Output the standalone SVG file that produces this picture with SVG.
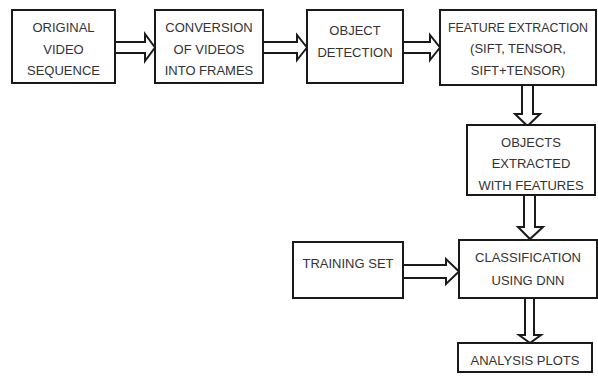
<svg xmlns="http://www.w3.org/2000/svg" width="598" height="380" viewBox="0 0 598 380">
<style>
.box{fill:#fff;stroke:#1a1a1a;stroke-width:2}
.arr{fill:#fff;stroke:#1a1a1a;stroke-width:2;stroke-linejoin:miter}
text{font-family:"Liberation Sans",Arial,sans-serif;font-size:13px;fill:#333;text-anchor:middle}
</style>
<rect width="598" height="380" fill="#fff"/>
<g id="connectors">
<polygon class="arr" points="115,42 145,42 145,34 155,47.5 145,61 145,53 115,53"/>
<polygon class="arr" points="263,42 297,42 297,35 307,47.5 297,60 297,53 263,53"/>
<polygon class="arr" points="403,42 430,42 430,35 440,47.5 430,60 430,53 403,53"/>
<polygon class="arr" points="522,85 522,114 515,114 527.5,126 540,114 533,114 533,85"/>
<polygon class="arr" points="524,195 524,227 518,227 530,239 543,227 535,227 535,195"/>
<polygon class="arr" points="403,265 446,265 446,259 459,271.5 446,284 446,278 403,278"/>
<polygon class="arr" points="525,298 525,335 519,335 530,343 541,335 534,335 534,298"/>
</g>
<g id="original">
<rect class="box" x="12" y="10" width="103" height="73"/>
<text x="63.5" y="32">ORIGINAL</text>
<text x="63.5" y="53.5">VIDEO</text>
<text x="63.5" y="75">SEQUENCE</text>
</g>
<g id="conversion">
<rect class="box" x="155" y="10" width="108" height="73"/>
<text x="209" y="32">CONVERSION</text>
<text x="209" y="53.5">OF VIDEOS</text>
<text x="209" y="75">INTO FRAMES</text>
</g>
<g id="detection">
<rect class="box" x="307" y="10" width="96" height="73"/>
<text x="355" y="35">OBJECT</text>
<text x="355" y="57">DETECTION</text>
</g>
<g id="feature">
<rect class="box" x="440" y="10" width="156" height="75"/>
<text x="518" y="32" textLength="140" lengthAdjust="spacingAndGlyphs">FEATURE EXTRACTION</text>
<text x="518" y="53">(SIFT, TENSOR,</text>
<text x="518" y="75">SIFT+TENSOR)</text>
</g>
<g id="objects">
<rect class="box" x="467" y="125" width="128" height="70"/>
<text x="531" y="147">OBJECTS</text>
<text x="531" y="168">EXTRACTED</text>
<text x="531" y="190">WITH FEATURES</text>
</g>
<g id="training">
<rect class="box" x="293" y="242" width="110" height="56"/>
<text x="348" y="268">TRAINING SET</text>
</g>
<g id="classification">
<rect class="box" x="459" y="240" width="138" height="58"/>
<text x="528" y="262">CLASSIFICATION</text>
<text x="528" y="285">USING DNN</text>
</g>
<g id="analysis">
<rect class="box" x="458" y="343" width="134" height="29"/>
<text x="525" y="365">ANALYSIS PLOTS</text>
</g>
</svg>
